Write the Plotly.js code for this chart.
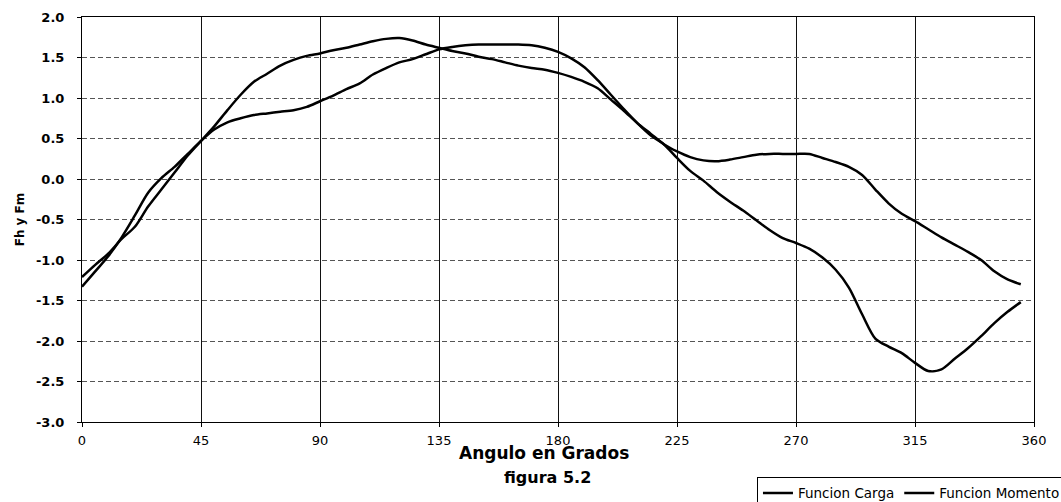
<!DOCTYPE html>
<html>
<head>
<meta charset="utf-8">
<script src="https://cdn.plot.ly/plotly-3.0.1.min.js"></script>
<style>
  html, body { margin: 0; padding: 0; background: #fff; }
  #chart { width: 1061px; height: 502px; }
</style>
</head>
<body>
<div id="chart"></div>
<script>
// Angle in degrees (every 5°)
const angulos = [
  0, 5, 10, 15, 20, 25, 30, 35, 40, 45, 50, 55, 60, 65, 70, 75, 80, 85,
  90, 95, 100, 105, 110, 115, 120, 125, 130, 135, 140, 145, 150, 155, 160, 165, 170, 175,
  180, 185, 190, 195, 200, 205, 210, 215, 220, 225, 230, 235, 240, 245, 250, 255, 260, 265,
  270, 275, 280, 285, 290, 295, 300, 305, 310, 315, 320, 325, 330, 335, 340, 345, 350, 355
];

// Funcion Carga
const funcionCarga = [
  -1.21, -1.06, -0.92, -0.74, -0.59, -0.34, -0.13, 0.08, 0.29, 0.47, 0.65, 0.85, 1.04, 1.20, 1.30, 1.40, 1.47, 1.52,
  1.55, 1.59, 1.62, 1.66, 1.70, 1.73, 1.74, 1.71, 1.66, 1.62, 1.58, 1.55, 1.51, 1.48, 1.44, 1.40, 1.37, 1.35,
  1.31, 1.26, 1.20, 1.12, 0.98, 0.84, 0.69, 0.56, 0.43, 0.34, 0.27, 0.23, 0.22, 0.24, 0.27, 0.30, 0.31, 0.31,
  0.31, 0.31, 0.26, 0.21, 0.15, 0.05, -0.13, -0.30, -0.43, -0.52, -0.62, -0.72, -0.81, -0.90, -1.00, -1.14, -1.24, -1.30
];

// Funcion Momento
const funcionMomento = [
  -1.33, -1.14, -0.95, -0.72, -0.45, -0.17, 0.01, 0.15, 0.31, 0.47, 0.61, 0.70, 0.75, 0.79, 0.81, 0.83, 0.85, 0.89,
  0.96, 1.03, 1.11, 1.18, 1.29, 1.37, 1.44, 1.48, 1.54, 1.60, 1.63, 1.65, 1.66, 1.66, 1.66, 1.66, 1.65, 1.62,
  1.57, 1.49, 1.38, 1.22, 1.04, 0.86, 0.69, 0.54, 0.43, 0.26, 0.10, -0.02, -0.16, -0.28, -0.39, -0.51, -0.63, -0.73,
  -0.79, -0.86, -0.97, -1.12, -1.34, -1.67, -1.97, -2.07, -2.15, -2.27, -2.37, -2.35, -2.22, -2.09, -1.94, -1.78, -1.64, -1.52
];

// Axis ticks (y labels use a plain hyphen for negatives)
const xTicks = [0, 45, 90, 135, 180, 225, 270, 315, 360];
const yTicks = [-3.0, -2.5, -2.0, -1.5, -1.0, -0.5, 0.0, 0.5, 1.0, 1.5, 2.0];
const yTickLabels = ['-3.0', '-2.5', '-2.0', '-1.5', '-1.0', '-0.5', '0.0', '0.5', '1.0', '1.5', '2.0'];

const nombresSeries = ['Funcion Carga', 'Funcion Momento'];
const tituloX = 'Angulo en Grados';
const subtituloX = 'figura 5.2';
const tituloY = 'Fh y Fm';

const fuente = 'DejaVu Sans, Verdana, sans-serif';

const trazos = [funcionCarga, funcionMomento].map((valores, i) => ({
  type: 'scatter',
  mode: 'lines',
  name: nombresSeries[i],
  x: angulos,
  y: valores,
  line: { color: '#000', width: 2.5, shape: 'spline', smoothing: 0.8 }
}));

const layout = {
  width: 1061,
  height: 502,
  paper_bgcolor: '#fff',
  plot_bgcolor: '#fff',
  margin: { l: 82, r: 27, t: 17, b: 80, autoexpand: false },
  font: { family: fuente, color: '#000', size: 13 },
  showlegend: true,
  legend: {
    orientation: 'h',
    x: 0.709, xanchor: 'left',
    y: -0.135, yanchor: 'top',
    bgcolor: '#fff',
    bordercolor: '#000',
    borderwidth: 1,
    font: { family: fuente, size: 13.5, color: '#000' },
    itemwidth: 30,
    tracegroupgap: 0
  },
  xaxis: {
    range: [0, 360],
    tickmode: 'array',
    tickvals: xTicks,
    ticks: 'outside',
    ticklen: 4,
    tickcolor: '#000',
    ticklabelstandoff: 2,
    showgrid: true,
    gridcolor: '#111',
    gridwidth: 1,
    showline: true,
    linecolor: '#000',
    linewidth: 1,
    mirror: true,
    zeroline: false,
    tickfont: { family: fuente, size: 13, color: '#000' }
  },
  yaxis: {
    range: [-3, 2],
    tickmode: 'array',
    tickvals: yTicks,
    ticktext: yTickLabels,
    ticks: 'outside',
    ticklen: 4,
    tickcolor: '#000',
    ticklabelstandoff: 10,
    showgrid: true,
    gridcolor: '#555',
    griddash: '5px,3px',
    gridwidth: 1,
    showline: true,
    linecolor: '#000',
    linewidth: 1,
    mirror: true,
    zeroline: false,
    tickfont: { family: fuente, size: 13, color: '#000', weight: 'bold' },
    title: { text: tituloY, font: { family: fuente, size: 12, color: '#000', weight: 'bold' }, standoff: 8 }
  },
  annotations: [
    {
      xref: 'paper', yref: 'paper', x: 0.485, y: -0.077,
      xanchor: 'center', yanchor: 'middle', showarrow: false,
      text: tituloX,
      font: { family: fuente, size: 17, color: '#000', weight: 'bold' }
    },
    {
      xref: 'paper', yref: 'paper', x: 0.489, y: -0.136,
      xanchor: 'center', yanchor: 'middle', showarrow: false,
      text: subtituloX,
      font: { family: fuente, size: 16, color: '#000', weight: 'bold' }
    }
  ]
};

Plotly.newPlot('chart', trazos, layout, { displayModeBar: false, staticPlot: true });
</script>
</body>
</html>
